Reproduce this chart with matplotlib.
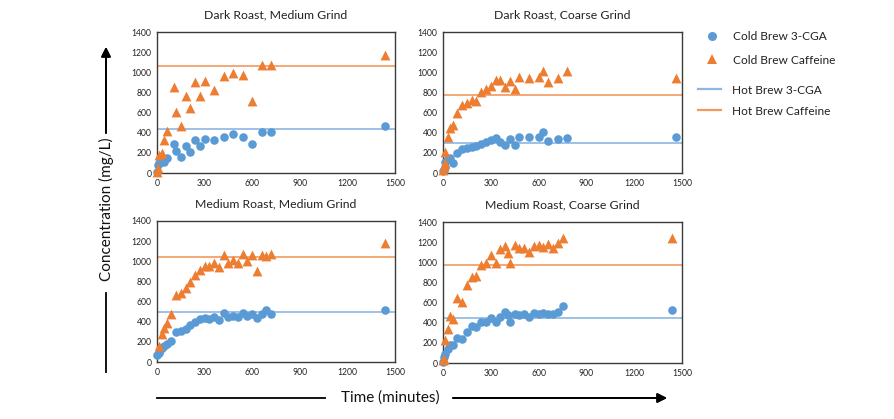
import matplotlib
matplotlib.use("Agg")
import matplotlib.pyplot as plt
from matplotlib.lines import Line2D

plt.rcParams['font.family'] = ['Lato', 'DejaVu Sans']

# ---------------- data ----------------
titles = ["Dark Roast, Medium Grind", "Dark Roast, Coarse Grind",
          "Medium Roast, Medium Grind", "Medium Roast, Coarse Grind"]

# Dark Roast, Medium Grind
t1_cga = [0, 5, 15, 30, 45, 60, 110, 120, 150, 180, 210, 240, 270, 300, 360, 420, 480, 540, 600, 660, 720, 1440]
cga1 = [10, 80, 100, 115, 110, 145, 285, 215, 160, 270, 210, 330, 265, 335, 325, 355, 385, 360, 290, 405, 405, 470]
t1_caf = [0, 5, 15, 30, 45, 60, 110, 120, 150, 180, 210, 240, 270, 300, 360, 420, 480, 540, 600, 660, 720, 1440]
caf1 = [10, 45, 175, 200, 330, 420, 850, 610, 470, 760, 645, 900, 765, 910, 820, 965, 990, 970, 710, 1070, 1070, 1175]

# Dark Roast, Coarse Grind
t2_cga = [0, 5, 10, 15, 30, 45, 60, 90, 120, 150, 180, 210, 240, 270, 300, 330, 360, 390, 420, 450, 480, 540, 600, 630, 660, 720, 780, 1465]
cga2 = [15, 30, 60, 110, 135, 146, 103, 202, 235, 253, 262, 270, 292, 305, 330, 343, 312, 282, 335, 275, 355, 355, 362, 408, 322, 342, 348, 355]
t2_caf = [0, 5, 10, 15, 30, 45, 60, 90, 120, 150, 180, 210, 240, 270, 300, 330, 360, 390, 420, 450, 480, 540, 600, 630, 660, 720, 780, 1465]
caf2 = [30, 70, 100, 212, 362, 445, 478, 600, 677, 695, 722, 718, 800, 830, 865, 925, 925, 853, 912, 833, 955, 946, 952, 1009, 906, 946, 1015, 942]

# Medium Roast, Medium Grind
t3_cga = [0, 10, 20, 30, 45, 60, 90, 120, 150, 180, 210, 240, 270, 300, 330, 360, 390, 420, 450, 480, 510, 540, 570, 600, 630, 660, 690, 720, 1440]
cga3 = [70, 85, 115, 135, 160, 180, 210, 300, 305, 332, 365, 398, 425, 441, 431, 448, 415, 491, 445, 458, 445, 491, 458, 481, 438, 474, 514, 481, 514]
t3_caf = [10, 30, 45, 60, 90, 120, 150, 180, 210, 240, 270, 300, 330, 360, 390, 420, 450, 480, 510, 540, 570, 600, 630, 660, 690, 720, 1440]
caf3 = [160, 275, 340, 390, 475, 670, 690, 737, 790, 863, 912, 952, 952, 979, 946, 1062, 979, 1012, 985, 1072, 1005, 1062, 902, 1062, 1055, 1072, 1178]

# Medium Roast, Coarse Grind
t4_cga = [0, 5, 15, 30, 45, 60, 90, 120, 150, 180, 210, 240, 270, 300, 330, 360, 390, 405, 420, 450, 480, 510, 540, 570, 600, 630, 660, 690, 720, 750, 1440]
cga4 = [10, 60, 90, 140, 180, 180, 250, 235, 310, 370, 353, 403, 410, 450, 410, 457, 510, 477, 410, 490, 477, 490, 460, 493, 490, 493, 487, 490, 510, 563, 523]
t4_caf = [0, 5, 15, 30, 45, 60, 90, 120, 150, 180, 210, 240, 270, 300, 330, 360, 390, 405, 420, 450, 480, 510, 540, 570, 600, 630, 660, 690, 720, 750, 1440]
caf4 = [30, 40, 230, 340, 470, 440, 643, 603, 770, 850, 867, 977, 993, 1070, 993, 1127, 1160, 1093, 993, 1167, 1137, 1143, 1103, 1160, 1170, 1150, 1183, 1143, 1187, 1243, 1243]

hot_cga = [441, 302, 498, 450]
hot_caf = [1065, 776, 1042, 970]

x_ticks = [0, 300, 600, 900, 1200, 1500]
y_ticks = [0, 200, 400, 600, 800, 1000, 1200, 1400]

legend_labels = ["Cold Brew 3-CGA", "Cold Brew Caffeine", "Hot Brew 3-CGA", "Hot Brew Caffeine"]

panels = [(t1_cga, cga1, t1_caf, caf1), (t2_cga, cga2, t2_caf, caf2),
          (t3_cga, cga3, t3_caf, caf3), (t4_cga, cga4, t4_caf, caf4)]

# ---------------- style ----------------
BLUE = '#5B9BD5'
ORANGE = '#ED7D31'
BLUE_LINE = '#8DB6E2'
ORANGE_LINE = '#F29A5E'
W, H = 894, 419

fig = plt.figure(figsize=(W / 100, H / 100), dpi=100)

# axes rectangles in pixels: left, top, right, bottom
rects = [(157, 32, 395, 173), (443, 32, 682, 173),
         (157, 221, 395, 362), (443, 222, 682, 363)]

for i, (r, (tc, c, tf, f)) in enumerate(zip(rects, panels)):
    l, t, rr, b = r
    ax = fig.add_axes([l / W, 1 - b / H, (rr - l) / W, (b - t) / H])
    ax.axhline(hot_cga[i], color=BLUE_LINE, lw=1.2, zorder=1)
    ax.axhline(hot_caf[i], color=ORANGE_LINE, lw=1.2, zorder=1)
    ax.scatter(tc, c, s=38, marker='o', color=BLUE, linewidths=0, zorder=3, clip_on=False)
    ax.scatter(tf, f, s=50, marker='^', color=ORANGE, linewidths=0, zorder=4, clip_on=False)
    ax.set_xlim(0, 1500)
    ax.set_ylim(0, 1400)
    ax.set_xticks(x_ticks)
    ax.set_yticks(y_ticks)
    ax.tick_params(length=0, labelsize=6.2, pad=4, colors='#222222')
    for sp in ax.spines.values():
        sp.set_color('#3a3a3a')
        sp.set_linewidth(1.0)
    ax.set_title(titles[i], fontsize=8.8, pad=10, color='#222222')

# ---------------- legend (manual keys) ----------------
def fx(px):
    return px / W

def fy(py):
    return 1 - py / H

fig.add_artist(Line2D([fx(712)], [fy(36)], marker='o', ms=6.5, color=BLUE, lw=0, mew=0,
                      transform=fig.transFigure))
fig.add_artist(Line2D([fx(712)], [fy(59)], marker='^', ms=7.5, color=ORANGE, lw=0, mew=0,
                      transform=fig.transFigure))
fig.add_artist(Line2D([fx(698), fx(721)], [fy(89), fy(89)], color=BLUE_LINE, lw=1.6,
                      transform=fig.transFigure))
fig.add_artist(Line2D([fx(698), fx(721)], [fy(110), fy(110)], color=ORANGE_LINE, lw=1.6,
                      transform=fig.transFigure))
for lab, (xx, yy) in zip(legend_labels, [(733, 37), (733, 60), (732, 90), (732, 111)]):
    fig.text(fx(xx), fy(yy), lab, fontsize=8.6, va='center', ha='left', color='#222222')

# ---------------- axis labels with arrows ----------------
fig.text(fx(106), fy(209), "Concentration (mg/L)", rotation=90, fontsize=11,
         ha='center', va='center', color='#111111')
fig.add_artist(Line2D([fx(106), fx(106)], [fy(293), fy(372)], color='black', lw=1.3,
                      transform=fig.transFigure))
fig.add_artist(plt.annotate("", xy=(fx(106), fy(47)), xytext=(fx(106), fy(133)),
                            xycoords='figure fraction', textcoords='figure fraction',
                            arrowprops=dict(arrowstyle='-|>', color='black', lw=1.3,
                                            mutation_scale=14, shrinkA=0, shrinkB=0)))

fig.text(fx(390), fy(398), "Time (minutes)", fontsize=11, ha='center', va='center',
         color='#111111')
fig.add_artist(Line2D([fx(157), fx(325)], [fy(398), fy(398)], color='black', lw=1.3,
                      transform=fig.transFigure))
fig.add_artist(plt.annotate("", xy=(fx(667), fy(398)), xytext=(fx(453), fy(398)),
                            xycoords='figure fraction', textcoords='figure fraction',
                            arrowprops=dict(arrowstyle='-|>', color='black', lw=1.3,
                                            mutation_scale=14, shrinkA=0, shrinkB=0)))

fig.savefig("out.png", dpi=100)
